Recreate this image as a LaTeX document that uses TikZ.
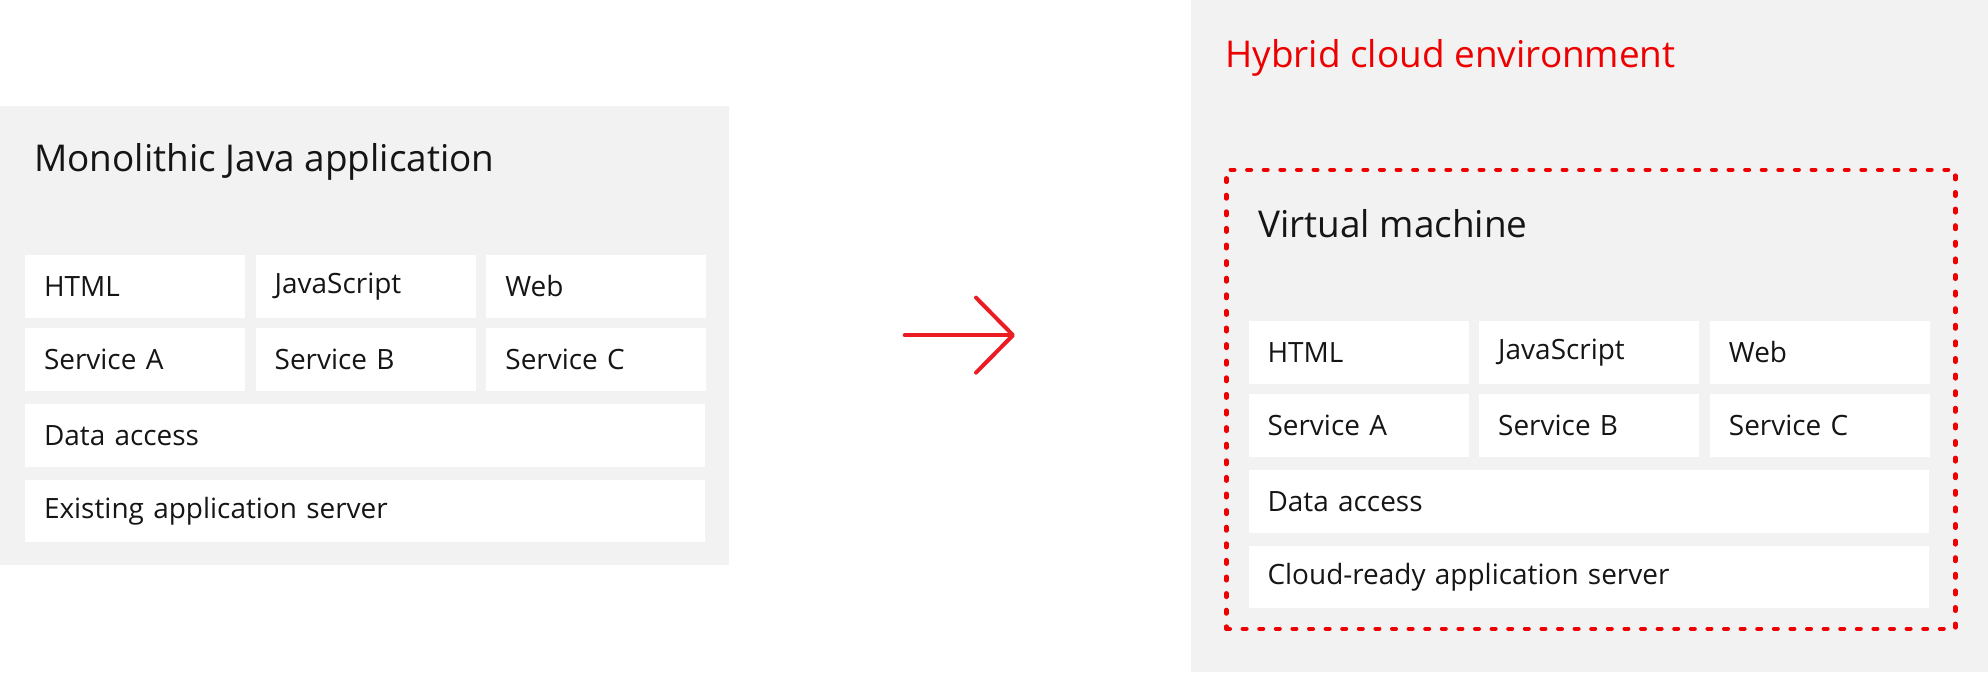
\documentclass[tikz,border=0pt]{standalone}
\usepackage{fontspec}
\setmainfont{Open Sans}
\usetikzlibrary{arrows.meta, positioning}

\definecolor{panelgray}{RGB}{242,242,242}
\definecolor{rhred}{RGB}{238,0,0}
\definecolor{arrowred}{RGB}{236,28,36}
\definecolor{inkblack}{RGB}{21,21,21}

\begin{document}
\begin{tikzpicture}[
      font=\fontsize{15.9}{19}\selectfont, text=inkblack,
      panel/.style={rectangle, fill=panelgray, inner sep=0pt, anchor=south west},
      layer/.style={rectangle, fill=white, inner sep=0pt, inner xsep=0.38cm,
        text width=3.64cm, minimum height=1.25cm, align=left},
      widelayer/.style={layer, text width=12.84cm},
      heading/.style={anchor=base west, inner sep=0pt, font=\fontsize{21}{24}\selectfont},
      vmbox/.style={draw=rhred, line width=0.09cm, line cap=round, dash pattern=on 0.07cm off 0.262cm},
      arrow/.style={-{Straight Barb[length=0.74cm, width=1.5cm, round]}, line width=0.08cm, line cap=round, draw=arrowred}
    ]
    \useasboundingbox (0,0) rectangle (39.76,13.44);

    % left side: the monolith
    \node[panel, minimum width=14.58cm, minimum height=9.18cm] (mono) at (0,2.14) {};
    \node[heading] (monotitle) at (0.68,10.02) {Monolithic Java application};

    \node[layer] (html) at (2.7,7.71) {HTML};
    \node[layer, right=0.2cm of html] (js) {JavaScript};
    \node[layer, right=0.2cm of js] (web) {Web};
    \node[layer, below=0.2cm of html] (sva) {Service A};
    \node[layer, right=0.2cm of sva] (svb) {Service B};
    \node[layer, right=0.2cm of svb] (svc) {Service C};
    \node[widelayer, below right=0.25cm and 0cm of sva.south west] (data) {Data access};
    \node[widelayer, below=0.25cm of data] (srv) {Existing application server};

    % right side: hybrid cloud
    \node[panel, minimum width=15.94cm, minimum height=13.44cm] (hybrid) at (23.82,0) {};
    \node[heading, text=rhred] (hybridtitle) at (24.5,12.08) {Hybrid cloud environment};

    \node[panel, vmbox, minimum width=14.58cm, minimum height=9.18cm] (vm) at (24.48,0.82) {};
    \node[heading] (vmtitle) at (25.16,8.70) {Virtual machine};

    \node[layer] (vhtml) at (27.17,6.39) {HTML};
    \node[layer, right=0.2cm of vhtml] (vjs) {JavaScript};
    \node[layer, right=0.2cm of vjs] (vweb) {Web};
    \node[layer, below=0.2cm of vhtml] (vsva) {Service A};
    \node[layer, right=0.2cm of vsva] (vsvb) {Service B};
    \node[layer, right=0.2cm of vsvb] (vsvc) {Service C};
    \node[widelayer, below right=0.25cm and 0cm of vsva.south west] (vdata) {Data access};
    \node[widelayer, below=0.25cm of vdata] (vsrv) {Cloud-ready application server};

    \draw[arrow, shorten <=3.5cm, shorten >=3.52cm] (mono.east) -- (mono.east -| hybrid.west);
  \end{tikzpicture}
\end{document}
